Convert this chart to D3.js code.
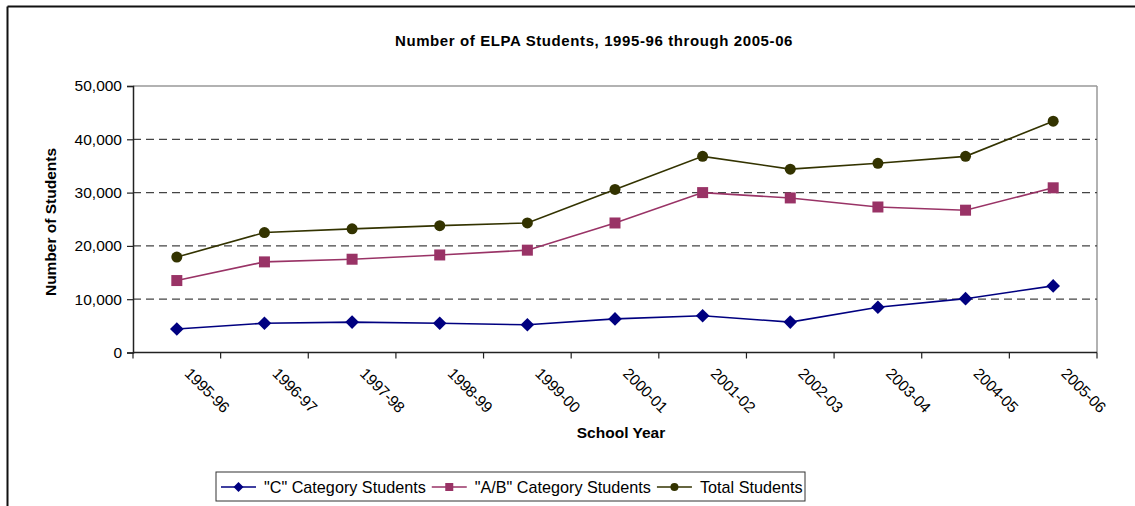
<!DOCTYPE html>
<html>
<head>
<meta charset="utf-8">
<script src="https://cdn.jsdelivr.net/npm/d3@7"></script>
<style>
  html, body { margin: 0; padding: 0; background: #fff; }
  svg { display: block; font-family: "Liberation Sans", Arial, sans-serif; }
</style>
</head>
<body>
<svg id="chart" width="1135" height="506"></svg>
<script>
const categories = ["1995-96","1996-97","1997-98","1998-99","1999-00","2000-01","2001-02","2002-03","2003-04","2004-05","2005-06"];
const cStudents  = [4400, 5500, 5700, 5500, 5200, 6300, 6900, 5700, 8500, 10100, 12500];
const abStudents = [13500, 17000, 17500, 18300, 19200, 24300, 30000, 29000, 27300, 26700, 30900];
const totalStudents = [17900, 22500, 23200, 23800, 24300, 30600, 36800, 34400, 35500, 36800, 43400];
const yTicks = [0, 10000, 20000, 30000, 40000, 50000];
const seriesNames = ["\"C\" Category Students", "\"A/B\" Category Students", "Total Students"];

const series = [
  { name: seriesNames[0], values: cStudents, color: "#000080", marker: "diamond" },
  { name: seriesNames[1], values: abStudents, color: "#993366", marker: "square" },
  { name: seriesNames[2], values: totalStudents, color: "#333300", marker: "circle" }
];

const FS = 15.5;
const svg = d3.select("#chart");
const m = { left: 133, right: 1097, top: 86, bottom: 352.5 };

// outer frame
svg.append("line").attr("x1", 7.5).attr("x2", 1135).attr("y1", 6.5).attr("y2", 6.5)
  .attr("stroke", "#111").attr("stroke-width", 2);
svg.append("line").attr("x1", 7.5).attr("x2", 7.5).attr("y1", 6.5).attr("y2", 506)
  .attr("stroke", "#111").attr("stroke-width", 2);

const x = d3.scaleBand().domain(categories).range([m.left, m.right]);
const y = d3.scaleLinear().domain([0, 50000]).range([m.bottom, m.top]);

// title
svg.append("text").attr("x", 594).attr("y", 46).attr("text-anchor", "middle")
  .attr("font-weight", "bold").attr("font-size", 15).attr("letter-spacing", 0.6)
  .text("Number of ELPA Students, 1995-96 through 2005-06");

// plot border (gray top & right)
svg.append("line").attr("x1", m.left).attr("x2", m.right).attr("y1", m.top).attr("y2", m.top)
  .attr("stroke", "#999").attr("stroke-width", 1.5);
svg.append("line").attr("x1", m.right).attr("x2", m.right).attr("y1", m.top).attr("y2", m.bottom)
  .attr("stroke", "#999").attr("stroke-width", 1.5);

// grid
svg.append("g").selectAll("line").data(yTicks.filter(d => d > 0 && d < 50000)).join("line")
  .attr("x1", m.left).attr("x2", m.right)
  .attr("y1", d => y(d)).attr("y2", d => y(d))
  .attr("stroke", "#444").attr("stroke-width", 1.2).attr("stroke-dasharray", "8,5");

// y axis
const yAxis = d3.axisLeft(y).tickValues(yTicks).tickSize(6).tickPadding(5)
  .tickFormat(d3.format(","));
const gy = svg.append("g").attr("transform", `translate(${m.left},0)`).call(yAxis);
gy.select(".domain").attr("stroke", "#222").attr("stroke-width", 1.5);
gy.selectAll(".tick line").attr("stroke", "#222").attr("stroke-width", 1.2);
gy.selectAll(".tick text").attr("font-size", FS).attr("fill", "#000")
  .attr("font-family", "Liberation Sans, Arial, sans-serif");

// x axis with ticks at boundaries
const gx = svg.append("g");
gx.append("line").attr("x1", m.left).attr("x2", m.right).attr("y1", m.bottom).attr("y2", m.bottom)
  .attr("stroke", "#222").attr("stroke-width", 1.5);
const bounds = categories.map(c => x(c)).concat([m.right]);
gx.selectAll("line.tk").data(bounds).join("line").attr("class", "tk")
  .attr("x1", d => d).attr("x2", d => d).attr("y1", m.bottom).attr("y2", m.bottom + 6)
  .attr("stroke", "#222").attr("stroke-width", 1.2);
gx.selectAll("text").data(categories).join("text")
  .attr("transform", d => `translate(${x(d) + x.bandwidth() / 2 + 7},${m.bottom + 22}) rotate(45)`)
  .attr("font-size", FS).attr("letter-spacing", -0.2).attr("text-anchor", "start")
  .text(d => d);

// axis titles
svg.append("text").attr("x", 621).attr("y", 438).attr("text-anchor", "middle")
  .attr("font-weight", "bold").attr("font-size", FS).text("School Year");
svg.append("text").attr("transform", `translate(55.5,222) rotate(-90)`).attr("text-anchor", "middle")
  .attr("font-weight", "bold").attr("font-size", FS).text("Number of Students");

// markers
function drawMarker(g, type, cx, cy, color) {
  if (type === "circle") {
    g.append("circle").attr("cx", cx).attr("cy", cy).attr("r", 5.5).attr("fill", color);
  } else if (type === "square") {
    g.append("rect").attr("x", cx - 5.5).attr("y", cy - 5.5).attr("width", 11).attr("height", 11).attr("fill", color);
  } else {
    const s = 6.8;
    g.append("path").attr("d", `M${cx},${cy - s}L${cx + s},${cy}L${cx},${cy + s}L${cx - s},${cy}Z`).attr("fill", color);
  }
}

const line = d3.line().x((d, i) => x(categories[i]) + x.bandwidth() / 2).y(d => y(d));
series.forEach(s => {
  const g = svg.append("g");
  g.append("path").datum(s.values).attr("d", line).attr("fill", "none")
    .attr("stroke", s.color).attr("stroke-width", 1.6);
  s.values.forEach((v, i) => drawMarker(g, s.marker, x(categories[i]) + x.bandwidth() / 2, y(v), s.color));
});

// legend
const lg = svg.append("g");
lg.append("rect").attr("x", 216).attr("y", 472).attr("width", 589).attr("height", 29)
  .attr("fill", "#fff").attr("stroke", "#333").attr("stroke-width", 1);
let lx = 221;
const ly = 487;
series.forEach(s => {
  lg.append("line").attr("x1", lx).attr("x2", lx + 35).attr("y1", ly).attr("y2", ly)
    .attr("stroke", s.color).attr("stroke-width", 1.6);
  const mk = lg.append("g");
  const c = lx + 17.5;
  if (s.marker === "circle") mk.append("circle").attr("cx", c).attr("cy", ly).attr("r", 4).attr("fill", s.color);
  else if (s.marker === "square") mk.append("rect").attr("x", c - 4).attr("y", ly - 4).attr("width", 8).attr("height", 8).attr("fill", s.color);
  else mk.append("path").attr("d", `M${c},${ly - 5}L${c + 5},${ly}L${c},${ly + 5}L${c - 5},${ly}Z`).attr("fill", s.color);
  const t = lg.append("text").attr("x", lx + 43).attr("y", ly + 5.5).attr("font-size", 16.2)
    .text(s.name);
  lx += 43 + t.node().getComputedTextLength() + 6;
});
</script>
</body>
</html>
